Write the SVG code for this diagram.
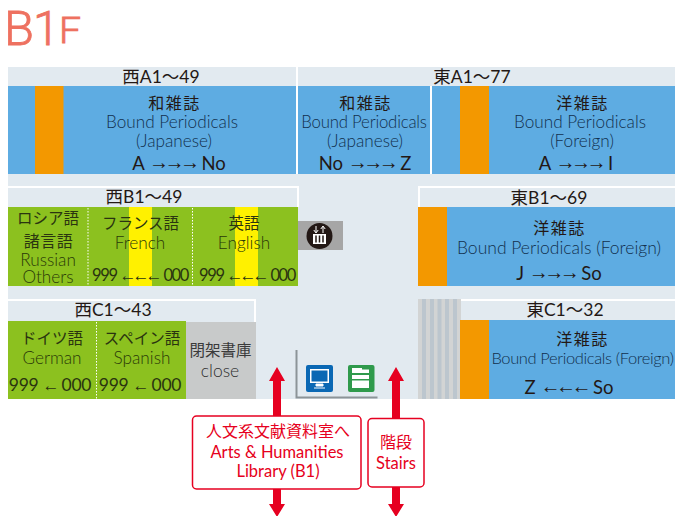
<svg xmlns="http://www.w3.org/2000/svg" width="675" height="516" viewBox="0 0 675 516">
<style>
text{font-family:Lato,"Noto Sans CJK JP",sans-serif;text-anchor:middle;fill:#231815}
.h{font-size:17.500px}
.j{font-size:16px;font-family:"Noto Sans CJK JP",sans-serif;letter-spacing:1.500px}
.k{font-size:15.500px;font-family:"Noto Sans CJK JP",sans-serif;fill:#2a3410}
.e{font-size:17.200px;font-weight:300;fill:#12304e}
.g{font-size:17.200px;font-weight:300;fill:#2a3a08}
.a{font-size:18.500px}
.n{font-size:16.500px;fill:#2a3410;letter-spacing:-1.400px}
.m{font-size:17.500px;fill:#2a3410;letter-spacing:-.3px}
.w{font-size:17.500px;font-weight:300;fill:#2e2e2e}
.r{font-size:16.500px;fill:#e60020}
.s{font-family:"Liberation Sans",sans-serif;font-size:20px;letter-spacing:-4.500px}
.t{font-family:"Liberation Sans",sans-serif;font-size:17px;letter-spacing:-4px}
.title{font-family:Roboto,sans-serif;font-size:48px;font-weight:300;fill:#ee7160;stroke:#ee7160;stroke-width:.8px;text-anchor:start}
.blue{fill:#5eace2}.or{fill:#f39800}.gr{fill:#8cc11f}.ye{fill:#fff100}
.dot{stroke:#fff;stroke-width:1;stroke-dasharray:1.500 1.500;fill:none}
.wl{stroke:#fff;stroke-width:2;fill:none}
.box{fill:#fff;stroke:#e60020;stroke-width:1.500}
.ar{fill:#e60020}
</style>
<g id="floor">
<rect x="8" y="67" width="667" height="332" fill="#e2eaf0"/>
<rect x="296" y="67" width="2" height="107" fill="#fff"/>
<rect x="430" y="86" width="2" height="88" fill="#fff"/>
</g>
<g id="title">
<text class="title" y="44.500"><tspan x="4" textLength="30" lengthAdjust="spacingAndGlyphs">B</tspan><tspan x="33">1</tspan><tspan x="59" y="43" textLength="22" lengthAdjust="spacingAndGlyphs" style="font-size:36px">F</tspan></text>
</g>
<g id="west-a">
<rect class="blue" x="8" y="86" width="288" height="88"/>
<rect class="or" x="35" y="86" width="28.500" height="88"/>
<text class="h" x="161" y="83">西A1～49</text>
<text class="j" x="174.500" y="109">和雑誌</text>
<text class="e" x="172" y="128">Bound Periodicals</text>
<text class="e" x="174" y="147">(Japanese)</text>
<text class="a" x="179" y="170">A <tspan class="s" dy="-1">→→→</tspan><tspan dx="6" dy="1">No</tspan></text>
</g>
<g id="east-a-1">
<rect class="blue" x="298" y="86" width="132" height="88"/>
<text class="j" x="365.500" y="109">和雑誌</text>
<text class="e" x="364" y="128" style="font-size:16.800px;letter-spacing:-.2px">Bound Periodicals</text>
<text class="e" x="365" y="147">(Japanese)</text>
<text class="a" x="365" y="170">No <tspan class="s" dy="-1">→→→</tspan><tspan dx="6" dy="1">Z</tspan></text>
</g>
<g id="east-a-2">
<rect class="blue" x="432" y="86" width="243" height="88"/>
<rect class="or" x="460" y="86" width="29" height="88"/>
<text class="h" x="472" y="83">東A1～77</text>
<text class="j" x="582.500" y="109">洋雑誌</text>
<text class="e" x="580" y="128">Bound Periodicals</text>
<text class="e" x="582" y="147">(Foreign)</text>
<text class="a" x="576" y="170">A <tspan class="s" dy="-1">→→→</tspan><tspan dx="6" dy="1">I</tspan></text>
</g>
<g id="west-b">
<path class="wl" d="M8 187H298V207"/>
<text class="h" x="144" y="203">西B1～49</text>
<rect class="gr" x="8" y="207" width="290" height="79"/>
<rect class="ye" x="129" y="207" width="23" height="79"/>
<rect class="ye" x="235" y="207" width="23" height="79"/>
<path class="dot" d="M88 208V286M192.500 208V286"/>
<text class="k" x="48" y="224">ロシア語</text>
<text class="j" x="48.500" y="247" style="letter-spacing:.5px;fill:#2a3410">諸言語</text>
<text class="g" x="48" y="266">Russian</text>
<text class="g" x="48" y="283">Others</text>
<text class="k" x="140.500" y="229">フランス語</text>
<text class="g" x="140" y="249">French</text>
<text class="n" x="140" y="281">999 <tspan class="t">←←←</tspan><tspan dx="5">000</tspan></text>
<text class="k" x="244" y="229">英語</text>
<text class="g" x="244" y="249">English</text>
<text class="n" x="247" y="281">999 <tspan class="t">←←←</tspan><tspan dx="5">000</tspan></text>
</g>
<g id="elevator">
<rect x="298" y="221" width="45" height="29" fill="#a6a6a6"/>
<circle cx="319.500" cy="236" r="13" fill="#231815"/>
<rect x="313" y="234" width="13" height="10" fill="#fff"/>
<path d="M316 235.500V242.500M319.500 235.500V242.500M323 235.500V242.500" stroke="#231815" stroke-width="1.500"/>
<path d="M316 226V232M313.800 230L316 233L318.200 230M323 233V227M320.800 229L323 226L325.200 229" stroke="#fff" stroke-width="1" fill="none"/>
</g>
<g id="west-c">
<path class="wl" d="M8 300H255V322"/>
<text class="h" x="113" y="316">西C1～43</text>
<rect class="gr" x="8" y="321" width="178" height="78"/>
<rect x="186" y="322" width="70" height="77" fill="#c8caca"/>
<path class="dot" d="M96.500 322V399"/>
<text class="k" x="52" y="344">ドイツ語</text>
<text class="g" x="52" y="364">German</text>
<text class="m" x="50" y="391">999 <tspan class="t">←</tspan><tspan dx="6">000</tspan></text>
<text class="k" x="142" y="344">スペイン語</text>
<text class="g" x="142" y="364">Spanish</text>
<text class="m" x="140" y="391">999 <tspan class="t">←</tspan><tspan dx="6">000</tspan></text>
<text class="k" x="220.500" y="356" style="fill:#3a3a3a">閉架書庫</text>
<text class="w" x="220" y="377">close</text>
</g>
<g id="east-b">
<path class="wl" d="M419 207V187H675"/>
<text class="h" x="549" y="204">東B1～69</text>
<rect class="blue" x="418" y="207" width="257" height="79"/>
<rect class="or" x="418" y="207" width="29" height="79"/>
<text class="j" x="559.500" y="234">洋雑誌</text>
<text class="e" x="559" y="254" style="font-size:17.500px">Bound Periodicals (Foreign)</text>
<text class="a" x="559" y="280">J <tspan class="s" dy="-1">→→→</tspan><tspan dx="6" dy="1">So</tspan></text>
</g>
<g id="east-c">
<path class="wl" d="M461 300H675"/>
<rect x="418" y="299" width="43" height="100" fill="#d2d4d4"/>
<path d="M424 299V399M432 299V399M439.500 299V399M447 299V399M455 299V399" stroke="#bcc6ce" stroke-width="4"/>
<rect class="blue" x="460" y="320" width="215" height="79"/>
<rect class="or" x="460" y="320" width="29" height="79"/>
<text class="h" x="565" y="316">東C1～32</text>
<text class="j" x="582.500" y="345">洋雑誌</text>
<text class="e" x="582.500" y="364" style="font-size:16.500px;letter-spacing:-.38px">Bound Periodicals (Foreign)</text>
<text class="a" x="569" y="394">Z <tspan class="s" dy="-1">←←←</tspan><tspan dx="6" dy="1">So</tspan></text>
</g>
<g id="counter">
<path d="M296.500 350V397.500H377.500" stroke="#8c9498" stroke-width="2" fill="none"/>
</g>
<g id="pc">
<rect x="306" y="365" width="27" height="27" rx="2" fill="#0a68b4"/>
<rect x="310" y="369" width="19" height="14" fill="#fff"/>
<rect x="311.500" y="370.500" width="16" height="11" fill="#0a68b4"/>
<path d="M316 386H323V384H316ZM314 388H325" fill="#fff" stroke="#fff"/>
</g>
<g id="copier">
<rect x="348" y="365" width="26.500" height="27" rx="2" fill="#2f9a4c"/>
<path d="M352 368H362V369.500H369V373H352ZM352 375H369V379H352ZM352 380.500H369V388H352Z" fill="#fff"/>
</g>
<g id="connectors">
<path class="ar" d="M277 367L285 381H281V416H273V381H269Z"/>
<path class="ar" d="M273 489H281V504H285L277 517L269 504H273Z"/>
<path class="ar" d="M396 367L404 381H400V418H392V381H388Z"/>
<path class="ar" d="M392 487H400V504H404L396 517L388 504H392Z"/>
</g>
<g id="library">
<rect class="box" x="192.500" y="416" width="168.500" height="73" rx="4"/>
<text class="r" x="278" y="437" style="font-family:'Noto Sans CJK JP',sans-serif;font-size:16px">人文系文献資料室へ</text>
<text class="r" x="277" y="458">Arts &amp; Humanities</text>
<text class="r" x="278" y="477">Library (B1)</text>
</g>
<g id="stairs">
<rect class="box" x="368" y="418.500" width="56" height="68.500" rx="4"/>
<text class="r" x="396" y="448" style="font-family:'Noto Sans CJK JP',sans-serif;font-size:16px">階段</text>
<text class="r" x="396" y="469">Stairs</text>
</g>
</svg>
